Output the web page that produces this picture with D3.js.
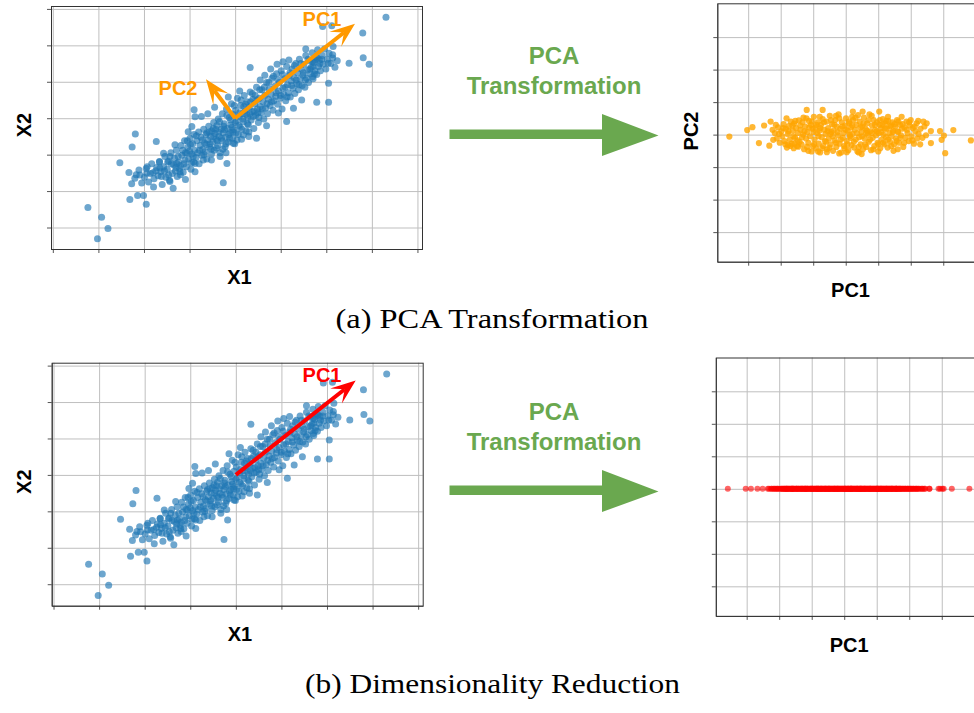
<!DOCTYPE html>
<html>
<head>
<meta charset="utf-8">
<script src="https://cdn.jsdelivr.net/npm/d3@7"></script>
<style>
  body { margin: 0; background: #fff; }
  svg text { font-family: "Liberation Sans", Arial, sans-serif; }
</style>
</head>
<body>
<svg id="fig" width="974" height="713"></svg>
<script>
// ---- data ----
// original space (X1, X2)
var xPoints = [
  [-3.23,-2.45],[-2.93,-2.72],[-2.79,-3.03],[-3.02,-3.31],
  [-2.31,-2.23],[-2.14,-2.12],[-2.01,-2.12],[-1.95,-2.36],[-2.27,-1.80],[-2.33,-1.49],[-2.53,-1.22],
  [-2.19,-0.43],[-2.26,-0.79],[-1.73,-0.64],[-1.79,-1.89],[-1.36,-1.92],[-1.09,-1.68],[-0.26,-1.77],
  [-2.11,-1.42],[-2.09,-1.56],[-1.94,-1.51],[-1.93,-1.33],[-1.65,-1.37],[-1.66,-1.19],[-1.46,-1.56],
  [-1.43,-1.74],[-1.21,-1.47],[-1.28,-1.24],[-1.57,-0.96],[-1.43,-1.05],[-1.32,-0.73],[-1.06,-0.96],
  [-0.88,-1.47],[-0.88,-1.24],[-0.70,-1.15],[-0.95,-0.23],[-1.03,-0.37],[-0.88,0.04],[-0.18,-1.24],
  [-0.33,-1.05],[-0.04,-0.69],[-0.90,0.23],[0.33,1.39],[1.13,-0.09],[1.79,0.44],[2.05,0.44],
  [2.05,0.96],[2.04,1.51],[2.50,1.51],[2.81,1.66],[2.94,1.48],[2.80,2.34],[2.15,1.97],[2.14,1.74],
  [1.92,2.52],[2.12,2.54],[3.31,2.77],[1.55,1.90],[1.46,0.50],[1.28,0.27],[0.95,0.14],[0.69,-0.21],
  [0.47,-0.55],[0.18,-0.46],[1.75,1.60],[1.71,1.42],[1.70,1.14],
  [-2.20,-1.65],[-2.05,-1.78],[-2.17,-1.55],
  [-1.99,-1.62],[-1.95,-1.38],[-1.90,-1.75],[-1.86,-1.52],[-1.83,-1.25],[-1.78,-1.66],[-1.74,-1.44],
  [-1.69,-1.58],[-1.66,-1.20],[-1.63,-1.47],[-1.60,-1.82],[-1.57,-1.33],[-1.54,-1.05],[-1.52,-1.62],
  [-1.49,-1.40],[-1.46,-1.18],[-1.44,-1.70],[-1.41,-0.95],[-1.38,-1.52],[-1.35,-1.28],[-1.33,-1.10],[-1.31,-1.45],
  [-1.29,-0.88],[-1.27,-1.60],[-1.24,-1.20],[-1.22,-1.38],[-1.19,-0.75],[-1.17,-1.02],[-1.14,-1.48],[-1.12,-1.25],[-1.11,-0.62],
  [-1.09,-0.95],[-1.07,-1.33],[-1.04,-0.80],[-1.02,-1.12],[-0.99,-0.55],[-0.97,-1.40],[-0.95,-0.98],[-0.93,-0.70],[-0.91,-1.20],[-0.90,-0.45],
  [-0.89,-0.88],[-0.86,-1.08],[-0.84,-0.62],[-0.82,-0.95],[-0.80,-0.38],[-0.79,-1.25],[-0.77,-0.75],[-0.75,-0.52],[-0.73,-1.02],[-0.71,-0.85],
  [-0.69,-0.30],[-0.67,-0.68],[-0.66,-0.92],[-0.64,-0.45],[-0.62,-1.12],[-0.60,-0.60],[-0.58,-0.22],[-0.56,-0.80],[-0.54,-0.50],[-0.52,-0.98],[-0.51,-0.35],
  [-0.49,-0.65],[-0.47,-0.12],[-0.46,-0.88],[-0.44,-0.42],[-0.42,-0.58],[-0.40,-0.20],[-0.38,-0.75],[-0.37,-0.02],[-0.35,-0.50],[-0.33,-0.95],[-0.31,-0.30],
  [-0.29,-0.62],[-0.28,0.12],[-0.26,-0.40],[-0.24,-0.15],[-0.22,-0.78],[-0.21,-0.52],[-0.19,0.25],[-0.17,-0.28],[-0.15,-0.65],[-0.13,0.02],[-0.11,-0.40],
  [-0.09,-0.18],[-0.08,0.40],[-0.06,-0.55],[-0.04,0.10],[-0.03,-0.32],[-0.01,-0.70],[0.01,0.22],[0.03,-0.08],[0.05,0.55],[0.07,-0.45],[0.09,0.05],
  [0.11,-0.25],[0.12,0.35],[0.14,-0.58],[0.16,0.12],[0.18,-0.10],[0.20,0.62],[0.22,0.20],[0.24,-0.35],[0.26,0.45],[0.28,0.02],[0.29,-0.18],
  [0.31,0.30],[0.33,0.72],[0.35,-0.05],[0.37,0.18],[0.39,0.52],[0.41,-0.28],[0.43,0.40],[0.45,0.08],[0.47,0.85],[0.49,0.25],
  [0.51,-0.12],[0.53,0.55],[0.55,0.32],[0.57,0.15],[0.59,0.78],[0.61,0.45],[0.63,-0.02],[0.65,0.62],[0.67,0.28],[0.69,0.98],
  [0.71,0.12],[0.73,0.52],[0.75,0.80],[0.77,0.35],[0.79,0.65],[0.81,1.10],[0.83,0.22],[0.85,0.48],[0.87,0.88],[0.89,0.60],
  [0.91,1.22],[0.93,0.38],[0.95,0.75],[0.97,0.98],[0.99,0.55],[1.01,1.30],[1.03,0.25],[1.05,0.82],[1.07,0.65],[1.09,1.08],
  [1.11,0.48],[1.13,1.42],[1.15,0.92],[1.17,0.70],[1.19,1.18],[1.21,0.58],[1.23,1.02],[1.25,1.35],[1.27,0.82],[1.29,1.12],
  [1.31,0.68],[1.33,1.50],[1.35,0.95],[1.37,1.25],[1.39,0.78],[1.41,1.62],[1.43,1.08],[1.45,1.35],[1.47,0.90],[1.49,1.18],
  [1.51,1.48],[1.53,0.85],[1.55,1.72],[1.57,1.10],[1.59,1.32],[1.61,0.98],[1.63,1.58],[1.65,1.22],[1.67,1.40],[1.69,1.80],
  [1.71,1.08],[1.73,1.52],[1.75,1.30],[1.77,1.68],[1.79,1.20],[1.81,1.88],[1.83,1.42],[1.85,1.60],[1.87,1.30],
  [1.91,1.72],[1.93,1.48],[1.96,1.90],[1.99,1.35],[2.02,1.62],[2.06,1.78],[2.10,1.50],[2.14,1.65],[2.19,1.40],[2.24,1.58],
  [0.78,1.35],[0.92,1.48],[1.05,1.55],[1.18,1.60],[0.65,1.18],[0.55,1.05],
  [-0.62,-0.40],[-0.55,-0.70],[-0.48,-0.28],[-0.41,-0.82],[-0.36,-0.38],[-0.30,-0.55],[-0.25,-0.22],[-0.20,-0.70],
  [-0.14,-0.45],[-0.10,-0.05],[-0.05,-0.38],[0.00,-0.12],[0.04,-0.60],[0.10,0.15],[0.15,-0.30],[0.19,0.32],
  [0.25,0.10],[0.30,-0.38],[0.34,0.45],[0.40,0.05],[0.44,0.62],[0.50,0.15],[0.54,0.78],[0.60,0.25],
  [0.64,0.85],[0.70,0.40],[0.74,0.98],[0.80,0.45],[0.84,1.15],[0.90,0.70],[0.94,1.05],[1.00,0.62],
  [1.04,1.20],[1.10,0.85],[1.14,0.58],[1.20,1.25],[1.24,0.90],[1.30,1.45],[1.34,1.05],[1.40,0.92],
  [1.44,1.50],[1.50,1.25],[1.54,1.05],[1.60,1.62],[1.64,1.35],[1.70,1.55],[1.74,1.22],[1.80,1.65],
  [1.86,1.50],[1.90,1.62],
  [-0.98,-0.72],[-0.92,-1.05],[-0.85,-0.48],[-0.78,-0.88],[-0.72,-0.60],[-0.68,-1.00],[-0.63,-0.72],[-0.57,-0.38],
  [-0.53,-0.85],[-0.47,-0.50],[-0.43,-0.30],[-0.39,-0.62],[-0.34,-0.10],[-0.27,-0.85],[-0.23,-0.32],[-0.18,0.08],
  [-0.12,-0.55],[-0.07,-0.25],[-0.02,0.35],[0.02,-0.40],[0.08,-0.20],[0.13,0.50],[0.17,-0.02],[0.23,0.38],
  [0.27,-0.15],[0.32,0.12],[0.38,0.68],[0.42,0.20],[0.48,0.50],[0.52,0.02],
  [-1.25,-1.05],[-1.20,-1.30],[-1.15,-0.88],[-1.10,-1.15],[-1.05,-0.62],[-1.00,-0.90],[-0.96,-1.22],[-1.40,-1.25],
  [-1.30,-1.35],[-1.55,-1.45],[-1.48,-1.20],[-1.62,-1.60],[-1.72,-1.35],[-1.80,-1.50],[-1.20,-1.55],
  [-0.74,0.05],[-0.60,0.12],[-0.45,0.30],[-0.15,0.58],[0.10,0.75],[-0.52,-1.15],[-0.20,-0.95],[0.30,-0.50]
];

// principal axes drawn on the original space
var pc1Vector = [2.63, 2.59];
var pc2Vector = [-0.64, 1.07];

// transformed space (PC1, PC2)
var pcPoints = [
  [-3.58,-0.06],[-3.03,0.14],[-2.87,0.23],[-2.51,0.28],[-2.31,0.40],[-2.67,-0.26],[-2.35,-0.34],[-2.23,-0.16],
  [-1.82,0.50],[-1.20,0.76],[-0.71,0.76],[0.22,0.71],[0.52,0.71],[1.03,0.71],[1.72,0.55],[2.00,0.45],
  [2.23,0.42],[2.39,0.40],[2.49,0.35],[2.62,0.11],[2.90,0.11],[3.31,0.14],[2.95,-0.16],[3.02,-0.03],
  [3.06,-0.57],[3.85,-0.18],[2.62,-0.26],[2.29,-0.30],[1.47,-0.50],[0.49,-0.60],[0.03,-0.54],[-0.58,-0.54],
  [-1.15,-0.50],[-1.46,-0.37],[-1.77,-0.32],
  [-2.18,0.05],[-2.12,-0.12],[-2.08,0.22],[-2.03,-0.25],[-2.15,0.30],
  [-1.98,0.10],[-1.95,-0.05],[-1.91,0.32],[-1.88,-0.20],[-1.84,0.18],[-1.81,-0.40],
  [-1.78,0.02],[-1.75,0.26],[-1.72,-0.15],[-1.69,0.40],[-1.66,-0.28],[-1.63,0.12],[-1.61,-0.05],
  [-1.59,0.34],[-1.56,-0.10],[-1.53,0.20],[-1.50,-0.35],[-1.47,0.05],[-1.44,0.44],[-1.42,-0.22],
  [-1.39,0.15],[-1.36,-0.30],[-1.33,0.38],[-1.31,0.00],[-1.28,-0.45],[-1.25,0.25],[-1.22,-0.12],[-1.21,0.50],
  [-1.18,0.08],[-1.15,-0.25],[-1.13,0.42],[-1.10,-0.05],[-1.07,0.30],[-1.05,-0.52],[-1.02,0.18],[-1.01,-0.35],
  [-0.98,0.55],[-0.96,-0.15],[-0.93,0.22],[-0.91,-0.42],[-0.88,0.05],[-0.86,0.38],[-0.83,-0.28],[-0.81,0.12],
  [-0.79,-0.55],[-0.76,0.30],[-0.74,-0.08],[-0.71,0.48],[-0.69,-0.35],[-0.66,0.15],[-0.64,-0.20],[-0.62,0.02],
  [-0.59,0.40],[-0.57,-0.45],[-0.54,0.20],[-0.52,-0.12],[-0.49,0.58],[-0.47,-0.30],[-0.44,0.08],[-0.42,0.32],
  [-0.39,-0.50],[-0.37,0.12],[-0.34,-0.18],[-0.32,0.45],[-0.29,-0.38],[-0.27,0.25],[-0.24,-0.02],[-0.22,0.62],
  [-0.19,-0.28],[-0.17,0.18],[-0.14,-0.55],[-0.12,0.38],[-0.09,-0.10],[-0.07,0.05],[-0.04,-0.42],[-0.02,0.28],
  [0.01,0.50],[0.03,-0.20],[0.06,0.12],[0.08,-0.48],[0.11,0.35],[0.13,-0.05],[0.16,0.22],[0.18,-0.32],
  [0.21,0.02],[0.23,0.45],[0.26,-0.40],[0.28,0.15],[0.31,-0.15],[0.33,0.30],[0.36,-0.52],[0.38,0.60],
  [0.41,-0.08],[0.43,0.40],[0.46,-0.30],[0.48,0.08],[0.51,0.25],[0.53,-0.45],[0.56,0.52],[0.58,-0.12],
  [0.61,0.18],[0.63,-0.38],[0.66,0.35],[0.68,0.00],[0.71,-0.22],[0.73,0.62],[0.76,0.10],[0.78,-0.48],
  [0.81,0.28],[0.83,-0.10],[0.86,0.45],[0.88,-0.35],[0.91,0.15],[0.93,-0.02],[0.96,0.38],[0.98,-0.25],
  [1.01,0.05],[1.04,0.30],[1.06,-0.42],[1.09,0.20],[1.11,-0.15],[1.14,0.48],[1.16,0.00],[1.19,-0.30],
  [1.21,0.35],[1.24,-0.08],[1.26,0.18],[1.29,-0.40],[1.31,0.42],[1.34,0.05],[1.36,-0.22],[1.39,0.28],
  [1.41,-0.05],[1.44,0.38],[1.46,0.12],[1.49,-0.30],[1.52,0.25],[1.55,-0.12],[1.58,0.45],
  [1.61,0.08],[1.64,-0.25],[1.67,0.30],[1.70,-0.02],[1.73,0.18],[1.77,-0.38],
  [1.81,0.22],[1.84,-0.10],[1.87,0.40],[1.90,0.05],[1.94,-0.20],[1.97,0.28],
  [2.02,-0.05],[2.06,0.20],[2.10,-0.28],[2.14,0.10],[2.18,0.35],
  [2.24,0.02],[2.30,0.18],[2.36,-0.10],[2.42,0.25],[2.47,-0.02],
  [-1.55,0.42],[-1.48,-0.18],[-1.40,0.28],[-1.34,-0.08],[-1.27,0.10],[-1.19,-0.38],[-1.12,0.22],[-1.04,0.40],
  [-0.97,-0.30],[-0.90,0.30],[-0.84,-0.05],[-0.78,0.20],[-0.72,-0.42],[-0.67,0.38],[-0.60,-0.22],[-0.55,0.10],
  [-0.50,-0.40],[-0.45,0.45],[-0.40,-0.05],[-0.35,0.30],[-0.30,-0.25],[-0.25,0.08],[-0.20,0.50],[-0.15,-0.15],
  [-0.10,0.25],[-0.05,-0.35],[0.00,0.15],[0.05,-0.30],[0.10,0.40],[0.15,-0.10],[0.20,0.28],[0.25,-0.22],
  [0.30,0.52],[0.35,0.05],[0.40,-0.38],[0.45,0.22],[0.50,-0.05],[0.55,0.35],[0.60,-0.30],[0.65,0.12],
  [0.70,0.45],[0.75,-0.15],[0.80,0.05],[0.85,-0.45],[0.90,0.30],[0.95,0.10],[1.00,-0.30],[1.05,0.45],
  [1.10,0.08],[1.15,-0.25],[1.20,0.18],[1.25,0.42],[1.30,-0.15],[1.35,0.25],[1.40,-0.35],[1.45,0.08],
  [1.50,0.32],[1.56,-0.20],[1.62,0.40],[1.68,-0.10],[1.75,0.32],[1.80,-0.25],[1.88,0.15],[1.95,0.38],
  [2.05,-0.18],[2.12,0.25],[2.20,-0.12],
  [-1.92,0.20],[-1.86,-0.30],[-1.76,0.10],[-1.70,-0.35],[-1.64,0.28],[-2.05,0.02],[-2.25,0.15],[-1.58,-0.28],
  [-0.99,0.08],[-0.47,0.02],[0.12,0.00],[0.63,0.05],[1.13,0.30],[1.60,0.10],
  [-1.30,0.52],[-0.80,0.55],[-0.30,0.58],[0.20,0.55],[0.80,0.58],[1.30,0.55],[-0.85,-0.52],[-0.20,-0.58],
  [0.40,-0.55],[1.00,-0.52],[1.60,-0.45],[-1.60,-0.42]
];

// reduced data: only PC1 kept
var pc1Only = pcPoints.map(d => d[0]);

var xTicks = [-4, -3, -2, -1, 0, 1, 2, 3, 4];
var yTicks = [-3, -2, -1, 0, 1, 2, 3];
var pcTicks = [-3, -2, -1, 0, 1, 2, 3];

var captions = ["(a) PCA Transformation", "(b) Dimensionality Reduction"];

// ---- layout ----
var svg = d3.select("#fig");
var green = "#6aa84f";

var leftSize = { width: 371, height: 243, xDomain: [-4.04, 4.1], yDomain: [-3.59, 3.08] };
var rightSize = { width: 290, height: 258.4, xDomain: [-3.95, 4.97], yDomain: [-3.91, 4.04] };

function makePanel(id, left, top, size, xt, yt) {
  var g = svg.append("g").attr("transform", `translate(${left},${top})`);
  var x = d3.scaleLinear().domain(size.xDomain).range([0, size.width]);
  var y = d3.scaleLinear().domain(size.yDomain).range([size.height, 0]);

  // grid
  g.append("g")
    .attr("transform", `translate(0,${size.height})`)
    .call(d3.axisBottom(x).tickValues(xt).tickSize(-size.height).tickFormat(""))
    .call(a => a.select(".domain").remove())
    .selectAll("line").attr("stroke", "#bfbfbf");
  g.append("g")
    .call(d3.axisLeft(y).tickValues(yt).tickSize(-size.width).tickFormat(""))
    .call(a => a.select(".domain").remove())
    .selectAll("line").attr("stroke", "#bfbfbf");

  // outward ticks
  g.append("g")
    .attr("transform", `translate(0,${size.height})`)
    .attr("color", "#555")
    .call(d3.axisBottom(x).tickValues(xt).tickSize(4).tickSizeOuter(0).tickFormat(""));
  g.append("g")
    .attr("color", "#555")
    .call(d3.axisLeft(y).tickValues(yt).tickSize(4).tickSizeOuter(0).tickFormat(""));

  g.append("rect")
    .attr("x", 0.5).attr("y", 0.5)
    .attr("width", size.width).attr("height", size.height)
    .attr("fill", "none").attr("stroke", "#333");

  g.append("clipPath").attr("id", "clip-" + id)
    .append("rect").attr("width", size.width).attr("height", size.height);
  var plot = g.append("g").attr("clip-path", `url(#clip-${id})`);
  return { g: g, plot: plot, x: x, y: y };
}

function pcArrow(p, vec, color) {
  var x0 = p.x(0), y0 = p.y(0), x1 = p.x(vec[0]), y1 = p.y(vec[1]);
  var len = Math.hypot(x1 - x0, y1 - y0);
  var ux = (x1 - x0) / len, uy = (y1 - y0) / len;
  var nx = -uy, ny = ux;
  var hl = 25, hw = 9.5, notch = 14;
  p.g.append("line")
    .attr("x1", x0).attr("y1", y0)
    .attr("x2", x1 - ux * notch).attr("y2", y1 - uy * notch)
    .attr("stroke", color).attr("stroke-width", 4);
  var pts = [
    [x1, y1],
    [x1 - ux * hl + nx * hw, y1 - uy * hl + ny * hw],
    [x1 - ux * notch, y1 - uy * notch],
    [x1 - ux * hl - nx * hw, y1 - uy * hl - ny * hw]
  ];
  p.g.append("path").attr("d", d3.line()(pts) + "Z").attr("fill", color);
}

function boldLabel(x, y, txt, size, color, rotate) {
  var t = svg.append("text")
    .attr("text-anchor", "middle")
    .attr("font-weight", "bold")
    .attr("font-size", size)
    .attr("fill", color)
    .text(txt);
  if (rotate) t.attr("transform", `translate(${x},${y}) rotate(-90)`);
  else t.attr("x", x).attr("y", y);
  return t;
}

function bigArrow(dy) {
  var shaft = [[449.5, 129.5], [602, 129.5], [602, 114], [658.5, 135.5], [602, 156], [602, 139], [449.5, 139]];
  svg.append("path")
    .attr("d", d3.line()(shaft.map(d => [d[0], d[1] + dy])) + "Z")
    .attr("fill", green);
  boldLabel(554, 64 + dy, "PCA", 24, green);
  boldLabel(554, 94 + dy, "Transformation", 24, green);
}

function caption(txt, cx, baseline, len) {
  svg.append("text")
    .attr("x", cx).attr("y", baseline)
    .attr("text-anchor", "middle")
    .style("font-family", "'Liberation Serif', 'Times New Roman', serif")
    .attr("font-size", 27)
    .attr("textLength", len).attr("lengthAdjust", "spacingAndGlyphs")
    .text(txt);
}

// ---- row (a) ----
var a1 = makePanel("a1", 51, 6, leftSize, xTicks, yTicks);
a1.plot.selectAll("circle").data(xPoints).enter().append("circle")
  .attr("cx", d => a1.x(d[0])).attr("cy", d => a1.y(d[1])).attr("r", 3.5)
  .attr("fill", "#1f77b4").attr("fill-opacity", 0.65);
pcArrow(a1, pc1Vector, "#ff9900");
pcArrow(a1, pc2Vector, "#ff9900");
boldLabel(322, 26, "PC1", 20, "#ff9900");
boldLabel(178, 95, "PC2", 20, "#ff9900");
boldLabel(239.5, 284, "X1", 20, "#000");
boldLabel(30.5, 125, "X2", 20, "#000", true);

bigArrow(0);

var a2 = makePanel("a2", 717.3, 3.3, rightSize, pcTicks, pcTicks);
a2.plot.selectAll("circle").data(pcPoints).enter().append("circle")
  .attr("cx", d => a2.x(d[0])).attr("cy", d => a2.y(d[1])).attr("r", 3.1)
  .attr("fill", "#ffa500").attr("fill-opacity", 0.8);
boldLabel(850.5, 296.7, "PC1", 20, "#000");
boldLabel(698, 131, "PC2", 20, "#000", true);

// ---- row (b) ----
var b1 = makePanel("b1", 51.7, 362.7, leftSize, xTicks, yTicks);
b1.plot.selectAll("circle").data(xPoints).enter().append("circle")
  .attr("cx", d => b1.x(d[0])).attr("cy", d => b1.y(d[1])).attr("r", 3.5)
  .attr("fill", "#1f77b4").attr("fill-opacity", 0.65);
pcArrow(b1, pc1Vector, "#ff0000");
boldLabel(322, 382, "PC1", 20, "#ff0000");
boldLabel(240, 640.7, "X1", 20, "#000");
boldLabel(31, 481.7, "X2", 20, "#000", true);

bigArrow(356);

var b2 = makePanel("b2", 715.8, 357.5, rightSize, pcTicks, pcTicks);
b2.plot.selectAll("circle").data(pc1Only).enter().append("circle")
  .attr("cx", d => b2.x(d)).attr("cy", b2.y(0)).attr("r", 3)
  .attr("fill", "#ff0000").attr("fill-opacity", 0.6);
boldLabel(849.2, 652, "PC1", 20, "#000");

// ---- captions ----
caption(captions[0], 492, 328, 313);
caption(captions[1], 492.5, 693, 375);
</script>
</body>
</html>
